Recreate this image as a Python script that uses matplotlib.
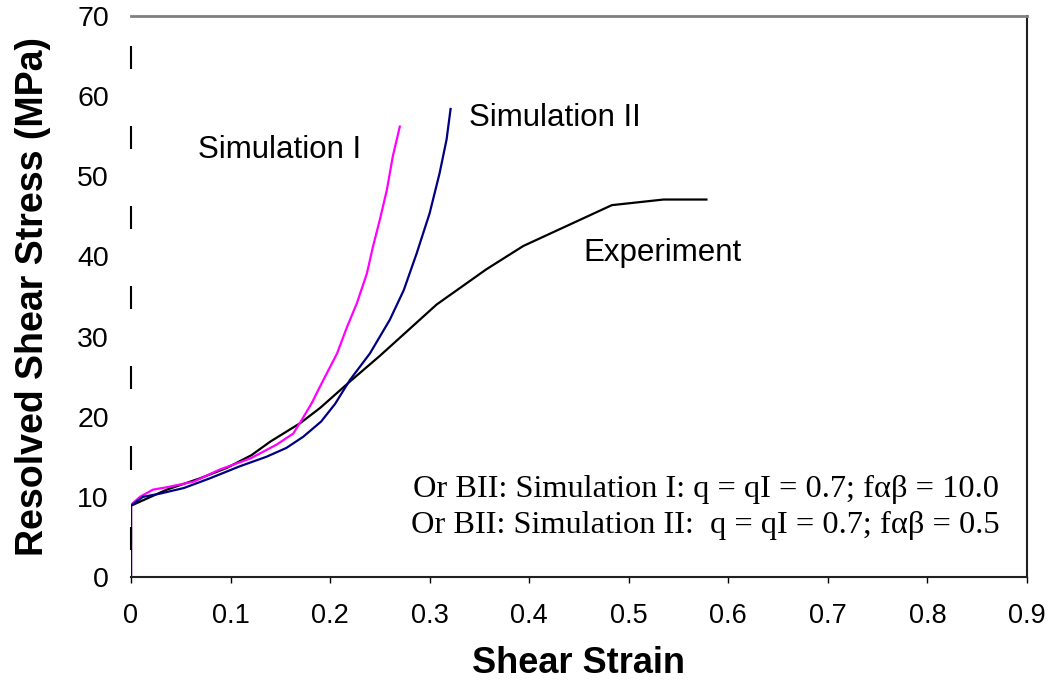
import matplotlib
matplotlib.use("Agg")
import matplotlib.pyplot as plt
import numpy as np

# Experiment (black)
exp_strain = [0.0, 0.0, 0.036, 0.069, 0.096, 0.121, 0.140, 0.170, 0.190,
              0.220, 0.250, 0.307, 0.357, 0.394, 0.483, 0.535, 0.578]
exp_stress = [0.0, 8.9, 10.9, 12.3, 13.6, 15.2, 16.9, 19.2, 21.1,
              24.4, 27.6, 34.0, 38.4, 41.3, 46.4, 47.1, 47.1]

# Simulation I (magenta)
sim1_strain = [0.0, 0.0, 0.009, 0.022, 0.036, 0.063, 0.089, 0.120, 0.146,
               0.163, 0.172, 0.182, 0.190, 0.207, 0.217, 0.227, 0.237,
               0.243, 0.250, 0.257, 0.263, 0.270]
sim1_stress = [0.0, 9.0, 10.0, 10.9, 11.2, 11.9, 13.4, 14.8, 16.5,
               17.9, 19.7, 21.8, 23.8, 27.9, 31.2, 34.2, 37.9,
               41.2, 44.6, 48.3, 52.5, 56.2]

# Simulation II (navy)
sim2_strain = [0.0, 0.0, 0.012, 0.029, 0.053, 0.079, 0.109, 0.136, 0.156,
               0.173, 0.191, 0.205, 0.220, 0.240, 0.260, 0.274, 0.287,
               0.300, 0.310, 0.317, 0.321]
sim2_stress = [0.0, 8.9, 10.0, 10.4, 11.1, 12.3, 13.8, 15.0, 16.1,
               17.5, 19.4, 21.6, 24.6, 27.9, 32.1, 35.8, 40.4,
               45.4, 50.4, 54.6, 58.4]

xticks = [0, 0.1, 0.2, 0.3, 0.4, 0.5, 0.6, 0.7, 0.8, 0.9]
xtick_labels = ["0", "0.1", "0.2", "0.3", "0.4", "0.5", "0.6", "0.7", "0.8", "0.9"]
yticks = [0, 10, 20, 30, 40, 50, 60, 70]

note1 = "Or BII: Simulation I: q = qI = 0.7; f\u03b1\u03b2 = 10.0"
note2 = "Or BII: Simulation II:  q = qI = 0.7; f\u03b1\u03b2 = 0.5"

sans = ["Liberation Sans", "DejaVu Sans"]
serif = ["Liberation Serif", "DejaVu Serif"]

fig = plt.figure(figsize=(10.5, 6.81), dpi=100)
ax = fig.add_axes([131 / 1050, 104 / 681, 896 / 1050, 561 / 681])

ax.plot(exp_strain, exp_stress, color="black", lw=1.6)
ax.plot(sim1_strain, sim1_stress, color="#ff00ff", lw=1.6)
ax.plot(sim2_strain, sim2_stress, color="#000080", lw=1.6)

ax.set_xlim(0, 0.9)
ax.set_ylim(0, 70)

ax.set_xticks(xticks)
ax.set_xticklabels(xtick_labels, family=sans, fontsize=19.5)
ax.set_yticks(yticks)
ax.set_yticklabels([str(v) for v in yticks], family=sans, fontsize=20.5)
ax.tick_params(axis="x", direction="out", length=4, width=1, pad=15)
ax.tick_params(axis="y", length=0, pad=16)

ax.set_xlabel("Shear Strain", family=sans, fontsize=26, fontweight="bold",
              labelpad=12)
ax.set_ylabel("Resolved Shear Stress (MPa)", family=sans, fontsize=27,
              fontweight="bold", labelpad=19)

# frame: grey top, dark right/bottom, broken left axis line
ax.spines["top"].set_color("#808080")
ax.spines["top"].set_linewidth(2)
ax.spines["right"].set_color("#202020")
ax.spines["right"].set_linewidth(1.5)
ax.spines["bottom"].set_color("#202020")
ax.spines["bottom"].set_linewidth(1.5)
ax.spines["left"].set_visible(False)
seg_lo = np.array(yticks[:-1]) + 3.4
ax.vlines([0] * len(seg_lo), seg_lo, seg_lo + 2.9, color="black", lw=1.5,
          clip_on=False)

ax.text(0.067, 53.3, "Simulation I", family=sans, fontsize=22.5, va="center")
ax.text(0.340, 57.3, "Simulation II", family=sans, fontsize=22.5, va="center")
ax.text(0.454, 40.4, "Experiment", family=sans, fontsize=22.5, va="center")

ax.text(0.283, 10.9, note1, family=serif, fontsize=23.3, va="center")
ax.text(0.281, 6.4, note2, family=serif, fontsize=23.3, va="center")

fig.savefig("out.png", dpi=100)
